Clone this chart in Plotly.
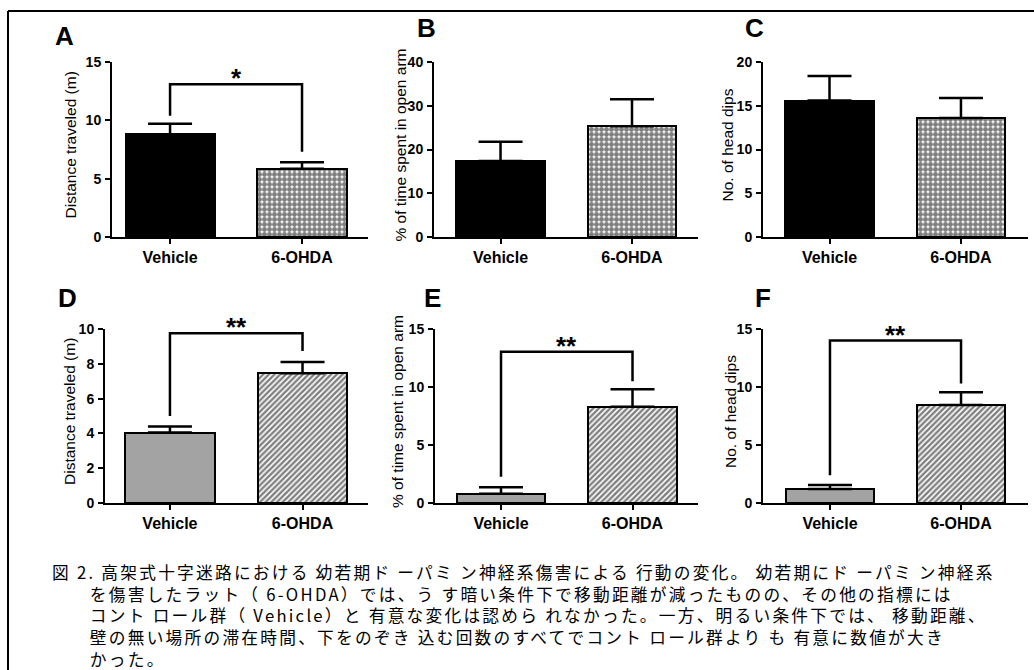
import plotly.graph_objects as go

W, H = 1034, 670

categories = ["Vehicle", "6-OHDA"]

# Top row (dim light)
dist_dark = [8.8, 5.85]
dist_dark_sem = [0.9, 0.55]
open_dark = [17.4, 25.3]
open_dark_sem = [4.4, 6.2]
dips_dark = [15.6, 13.6]
dips_dark_sem = [2.8, 2.3]

# Bottom row (bright light)
dist_light = [4.05, 7.45]
dist_light_sem = [0.35, 0.65]
open_light = [0.8, 8.3]
open_light_sem = [0.55, 1.5]
dips_light = [1.2, 8.45]
dips_light_sem = [0.35, 1.1]

y_titles = ["Distance traveled (m)", "% of time spent in open arm", "No. of head dips",
            "Distance traveled (m)", "% of time spent in open arm", "No. of head dips"]
panel_letters = ["A", "B", "C", "D", "E", "F"]
y_max = [15, 40, 20, 10, 15, 15]
y_dtick = [5, 10, 5, 2, 5, 5]

# significance brackets: panel index, bracket height, left leg end, right leg end, label
brackets = [
    (0, 13.1, 10.4, 7.3, "*"),
    (3, 9.75, 5.0, 8.73, "**"),
    (4, 13.04, 2.27, 10.5, "**"),
    (5, 14.0, 2.4, 10.3, "**"),
]

caption_lines = [
    "図 2. 高架式十字迷路における 幼若期ド ーパミ ン神経系傷害による 行動の変化。 幼若期にド ーパミ ン神経系",
    "\u3000\u3000を傷害したラット（ 6-OHDA）では、う す暗い条件下で移動距離が減ったものの、その他の指標には",
    "\u3000\u3000コント ロール群（ Vehicle）と 有意な変化は認めら れなかった。一方、明るい条件下では、 移動距離、",
    "\u3000\u3000壁の無い場所の滞在時間、下をのぞき 込む回数のすべてでコント ロール群より も 有意に数値が大き",
    "\u3000\u3000かった。",
]

values = [dist_dark, open_dark, dips_dark, dist_light, open_light, dips_light]
sems = [dist_dark_sem, open_dark_sem, dips_dark_sem, dist_light_sem, open_light_sem, dips_light_sem]

# layout geometry (pixels)
x_px = [(112, 368), (434, 698), (763, 1028), (105, 368), (435, 698), (763, 1028)]
x_rng = [(-0.44, 1.5), (-0.506, 1.502), (-0.506, 1.51), (-0.49, 1.494), (-0.502, 1.498), (-0.511, 1.511)]
y_px = [(237, 62)] * 3 + [(503, 329)] * 3
ytitle_x = [70, 400, 727, 69, 397, 730]
letter_pos = [(53, 36), (415, 28), (743, 28), (56, 298), (422, 298), (753, 298)]

font_main = "Liberation Sans, Arial, sans-serif"

fig = go.Figure()

for i in range(6):
    ax = "" if i == 0 else str(i + 1)
    top = i < 3
    if top:
        colors = ["black", "white"]
        patterns = [dict(shape=""), dict(shape=".", fgcolor="black", bgcolor="white", size=5, solidity=0.76)]
    else:
        colors = ["#a3a3a3", "white"]
        patterns = [dict(shape=""), dict(shape="/", fgcolor="black", bgcolor="white", size=4, solidity=0.6)]
    for j, cat in enumerate(categories):
        fig.add_trace(go.Bar(
            x=[cat], y=[values[i][j]],
            width=0.675,
            marker=dict(color=colors[j], pattern=patterns[j], line=dict(color="black", width=2)),
            error_y=dict(type="data", symmetric=False, array=[sems[i][j]], arrayminus=[0],
                         color="black", thickness=2.5, width=22),
            xaxis="x" + ax, yaxis="y" + ax, showlegend=False,
        ))

for (pi, h, l_end, r_end, lab) in brackets:
    ax = "" if pi == 0 else str(pi + 1)
    fig.add_trace(go.Scatter(
        x=[categories[0], categories[0], categories[1], categories[1]],
        y=[l_end, h, h, r_end], mode="lines",
        line=dict(color="black", width=2.5),
        xaxis="x" + ax, yaxis="y" + ax, showlegend=False, hoverinfo="skip",
    ))

layout = dict(
    width=W, height=H,
    margin=dict(l=0, r=0, t=0, b=0),
    paper_bgcolor="white", plot_bgcolor="white",
    showlegend=False,
    bargap=0,
)

annotations = []
for i in range(6):
    ax = "" if i == 0 else str(i + 1)
    x0, x1 = x_px[i]
    yb, yt = y_px[i]
    layout["xaxis" + ax] = dict(
        domain=[x0 / W, x1 / W], range=list(x_rng[i]), type="category",
        categoryorder="array", categoryarray=categories,
        anchor="y" + ax, showline=True, linecolor="black", linewidth=2,
        ticks="outside", ticklen=5, tickwidth=2, tickcolor="black",
        showgrid=False, zeroline=False, automargin=False,
        tickfont=dict(family=font_main, size=16, color="black", weight="bold"),
        fixedrange=True,
    )
    layout["yaxis" + ax] = dict(
        domain=[1 - yb / H, 1 - yt / H], range=[0, y_max[i]], dtick=y_dtick[i], tick0=0,
        anchor="x" + ax, showline=True, linecolor="black", linewidth=2,
        ticks="outside", ticklen=5, tickwidth=2, tickcolor="black",
        showgrid=False, zeroline=False, ticklabelstandoff=1, automargin=False,
        tickfont=dict(family=font_main, size=14, color="black", weight="bold"),
        fixedrange=True,
    )
    annotations.append(dict(
        text=y_titles[i], textangle=-90, xref="paper", yref="paper",
        x=ytitle_x[i] / W, y=1 - ((yb + yt) / 2 - 4) / H, xanchor="center", yanchor="middle",
        showarrow=False, font=dict(family=font_main, size=15.5, color="black"),
    ))
    lx, ly = letter_pos[i]
    annotations.append(dict(
        text=panel_letters[i], xref="paper", yref="paper", x=lx / W, y=1 - ly / H,
        xanchor="left", yanchor="middle", showarrow=False,
        font=dict(family=font_main, size=26, color="black", weight="bold"),
    ))

for (pi, h, l_end, r_end, lab) in brackets:
    ax = "" if pi == 0 else str(pi + 1)
    annotations.append(dict(
        text=lab, x=0.5, y=h, xref="x" + ax, yref="y" + ax,
        xanchor="center", yanchor="bottom", yshift=-11, showarrow=False,
        font=dict(family=font_main, size=26, color="black", weight="bold"),
    ))

caption_html = "<br>".join(
    '<span style="letter-spacing:2.25px">' + ln + "</span>" for ln in caption_lines
)
annotations.append(dict(
    text=caption_html, xref="paper", yref="paper", x=50 / W, y=1 - 558 / H,
    xanchor="left", yanchor="top", align="left", showarrow=False,
    font=dict(family="Noto Sans CJK JP", size=16.7, color="black"),
))

layout["annotations"] = annotations
layout["shapes"] = [
    dict(type="line", xref="paper", yref="paper", x0=8 / W, x1=1, y0=1 - 11 / H, y1=1 - 11 / H,
         line=dict(color="black", width=2)),
    dict(type="line", xref="paper", yref="paper", x0=8 / W, x1=8 / W, y0=1 - 11 / H, y1=0,
         line=dict(color="black", width=2)),
]

fig.update_layout(**layout)
fig.write_html("out.html", config={"displayModeBar": False},
               post_script="document.body.style.margin='0';")
